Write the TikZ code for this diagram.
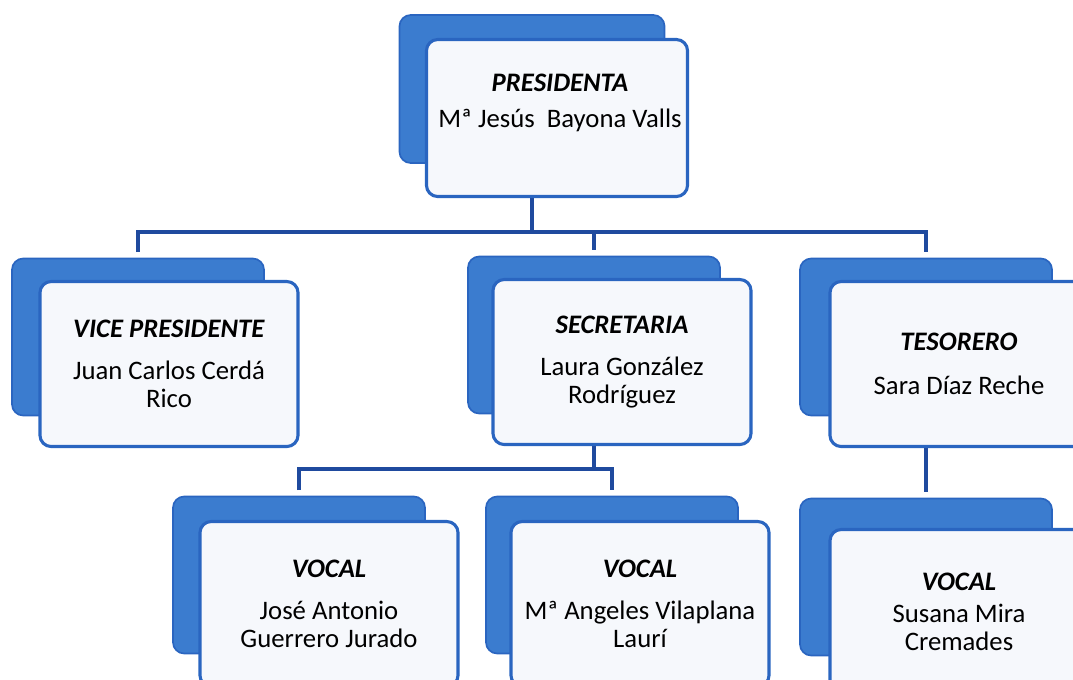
\documentclass[tikz,border=0pt]{standalone}
\usepackage{fontspec}
\setmainfont{Carlito}
\usetikzlibrary{positioning,backgrounds}

\definecolor{cardblue}{HTML}{3B7CCF}
\definecolor{edgeblue}{HTML}{2A65C0}
\definecolor{linkblue}{HTML}{1F4A9E}
\definecolor{cardfill}{HTML}{F6F8FC}

\tikzset{
  backcard/.style={draw=edgeblue, fill=cardblue, line width=1.2pt, rounded corners=8pt,
    minimum width=6.3cm, minimum height=3.925cm},
  card/.style={draw=edgeblue, fill=cardfill, line width=2.2pt, rounded corners=8pt,
    minimum width=6.45cm, minimum height=4.125cm, align=center,
    font=\fontsize{19}{20}\selectfont},
  link/.style={draw=linkblue, line width=3pt},
}
\newcommand{\role}[2][10pt]{\textbf{\textit{#2}}\\[#1]}

\begin{document}
\begin{tikzpicture}[x=0.025cm, y=-0.025cm]
    \useasboundingbox (0,0) rectangle (1073,679);
    \clip (0,0) rectangle (1073,679);

    % Back cards
    \node[backcard, minimum width=6.625cm, minimum height=3.7cm] (presB) at (532,89) {};
    \node[backcard] (viceB) at (138,337) {};
    \node[backcard] (secrB) at (594,335) {};
    \node[backcard] (tesB) at (926,337) {};
    \node[backcard] (voc1B) at (299,575) {};
    \node[backcard] (voc2B) at (612,575) {};
    \node[backcard] (voc3B) at (926,577) {};

    % Front cards
    \node[card, minimum width=6.525cm, minimum height=3.925cm] (pres) at (557,118) {};
    \node[font=\fontsize{19}{20}\selectfont, align=center] (presT) at (560,103)
        {\role[5.5pt]{PRESIDENTA}Mª Jesús\ \ Bayona Valls};
    \node[card] (vice) at (169,364) {\role{VICE PRESIDENTE}Juan Carlos Cerdá\\Rico};
    \node[card] (secr) at (622,362) {\role{SECRETARIA}Laura González\\Rodríguez};
    \node[card] (tes) at (959,364) {\role[11pt]{TESORERO}Sara Díaz Reche};
    \node[card] (voc1) at (329,604) {\role{VOCAL}José Antonio\\Guerrero Jurado};
    \node[card] (voc2) at (640,604) {\role{VOCAL}Mª Angeles Vilaplana\\Laurí};
    \node[card] (voc3) at (959,612) {\role[3pt]{VOCAL}Susana Mira\\Cremades};

    % Links
    \coordinate (busA) at (0,232);
    \coordinate (busB) at (0,469);
    \begin{scope}[on background layer]
        \draw[link] (presB.center) -- (presB |- busA);
        \draw[link] ([yshift=4pt]viceB.north) -- (viceB |- busA) -- (tesB |- busA)
            -- ([yshift=4pt]tesB.north);
        \draw[link] (secrB |- busA) -- ([yshift=4pt]secrB.north);
        \draw[link] (secrB.center) -- (secrB |- busB);
        \draw[link] ([yshift=4pt]voc1B.north) -- (voc1B |- busB) -- (voc2B |- busB)
            -- ([yshift=4pt]voc2B.north);
        \draw[link] (tesB.center) -- ([yshift=4pt]voc3B.north);
    \end{scope}
\end{tikzpicture}
\end{document}
